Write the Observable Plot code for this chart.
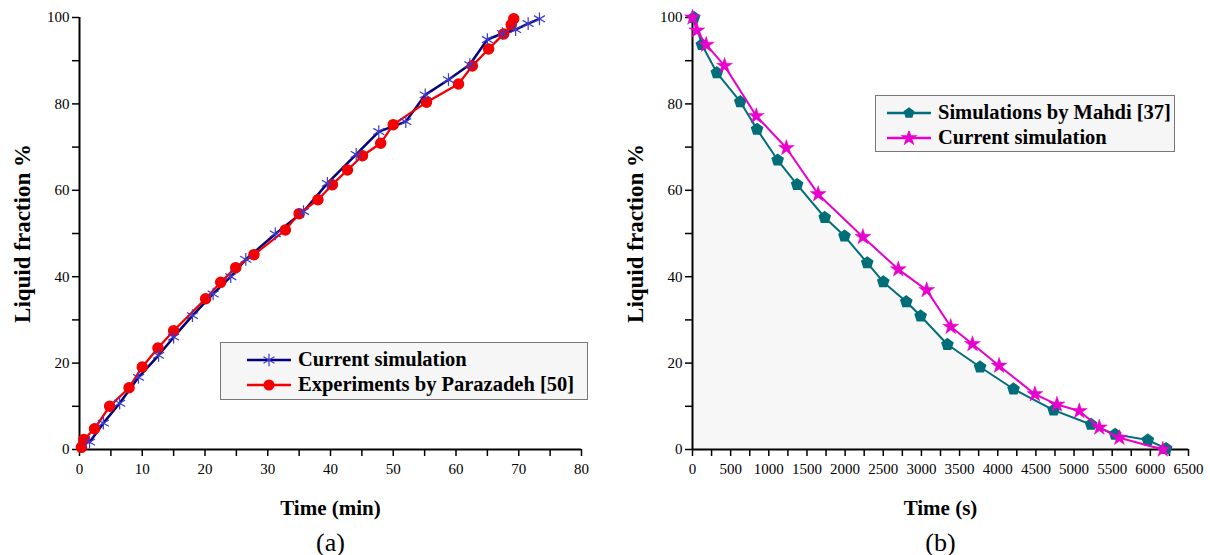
<!DOCTYPE html>
<html><head><meta charset="utf-8">
<script src="https://cdn.jsdelivr.net/npm/d3@7"></script>
<script src="https://cdn.jsdelivr.net/npm/@observablehq/plot@0.6"></script>
<style>
body{margin:0;background:#fff;}
#wrap{position:relative;width:1210px;height:555px;display:flex;font-family:'Liberation Serif','Times New Roman','DejaVu Serif',serif;}
#wrap svg text{font-family:'Liberation Serif','Times New Roman','DejaVu Serif',serif;}
.legend{position:absolute;background:#f6f6f6;border:1.5px solid #777;box-sizing:border-box;font-weight:bold;font-size:20.5px;color:#000;}
.legend .row{display:flex;align-items:center;height:25px;white-space:nowrap;}
.legend svg{margin-right:7px;flex:none;}
</style></head><body><div id="wrap"></div>
<script>
// ---------- Panel (a) data ----------
const timeA_sim = [1.6, 3.8, 6.4, 9.4, 12.6, 15.0, 18.0, 21.3, 24.1, 26.5, 31.2, 35.7, 39.5, 44.1, 47.7, 52.0, 55.1, 58.8, 62.2, 65.0, 67.4, 69.5, 71.5, 73.3];
const fracA_sim = [1.7, 6.1, 10.7, 16.7, 21.8, 26.0, 31.0, 36.0, 40.0, 44.0, 49.9, 55.1, 61.6, 68.3, 73.6, 75.9, 82.1, 85.6, 89.1, 94.9, 96.3, 97.2, 98.6, 99.7];
const timeA_exp = [0.3, 0.7, 2.4, 4.8, 7.9, 10.0, 12.5, 15.0, 20.1, 22.5, 24.9, 27.8, 32.8, 35.0, 38.0, 40.3, 42.7, 45.1, 48.0, 50.0, 55.3, 60.4, 62.6, 65.2, 67.6, 68.8, 69.2];
const fracA_exp = [0.5, 2.3, 4.8, 10.0, 14.3, 19.1, 23.5, 27.5, 34.9, 38.7, 42.1, 45.1, 50.8, 54.6, 57.8, 61.3, 64.7, 68.0, 70.9, 75.2, 80.4, 84.6, 88.8, 92.7, 96.2, 98.3, 99.7];
const xTicksA = [0, 10, 20, 30, 40, 50, 60, 70, 80];
const xMinorA = [5, 15, 25, 35, 45, 55, 65, 75];
const yTicks = [0, 20, 40, 60, 80, 100];
const yMinor = [10, 30, 50, 70, 90];

// ---------- Panel (b) data ----------
const timeB_mahdi = [20, 123, 320, 626, 846, 1116, 1371, 1733, 1992, 2290, 2500, 2802, 2990, 3341, 3769, 4207, 4733, 5223, 5538, 5967, 6207];
const fracB_mahdi = [100, 93.7, 87.2, 80.5, 74.1, 67.0, 61.3, 53.7, 49.4, 43.2, 38.8, 34.2, 30.9, 24.3, 19.1, 14.0, 9.1, 5.8, 3.5, 2.2, 0.2];
const timeB_sim = [0, 57, 180, 420, 836, 1230, 1647, 2233, 2697, 3069, 3384, 3669, 4018, 4487, 4776, 5069, 5331, 5594, 6164];
const fracB_sim = [100, 97, 93.7, 88.8, 77.2, 69.8, 59.1, 49.2, 41.7, 36.9, 28.4, 24.4, 19.4, 12.8, 10.4, 8.9, 5.1, 2.7, 0];
const xTicksB = [0, 500, 1000, 1500, 2000, 2500, 3000, 3500, 4000, 4500, 5000, 5500, 6000, 6500];
const xMinorB = [250, 750, 1250, 1750, 2250, 2750, 3250, 3750, 4250, 4750, 5250, 5750, 6250];

const legendA = ["Current simulation", "Experiments by Parazadeh [50]"];
const legendB = ["Simulations by Mahdi [37]", "Current simulation"];

// colours
const cBlueLine = "#00007a", cBlueMark = "#3a3acc", cRed = "#f40000", cTeal = "#006e78", cMag = "#e800cc";

const zip = (xs, ys) => xs.map((x, i) => ({x, y: ys[i]}));
const A_sim = zip(timeA_sim, fracA_sim), A_exp = zip(timeA_exp, fracA_exp);
const B_mahdi = zip(timeB_mahdi, fracB_mahdi), B_sim = zip(timeB_sim, fracB_sim);

const pentagon = {
  draw(ctx, size) {
    const r = Math.sqrt(size / Math.PI) * 1.15;
    for (let i = 0; i < 5; i++) {
      const a = -Math.PI / 2 + i * 2 * Math.PI / 5;
      const px = r * Math.cos(a), py = r * Math.sin(a);
      if (i === 0) ctx.moveTo(px, py); else ctx.lineTo(px, py);
    }
    ctx.closePath();
  }
};

const font = "'Liberation Serif', 'Times New Roman', 'DejaVu Serif', serif";
const fmt = d => String(d);
const commonAxes = (xTicks, xMinor) => [
  Plot.axisY(yMinor, {tickSize: 7, text: null, strokeWidth: 1.5, label: null}),
  Plot.axisY(yTicks, {tickSize: 7, tickPadding: 3, strokeWidth: 1.5, label: null, tickFormat: fmt}),
  Plot.axisX(xMinor, {tickSize: 7, text: null, strokeWidth: 1.5, label: null}),
  Plot.axisX(xTicks, {tickSize: 7, tickPadding: 7, strokeWidth: 1.5, label: null, tickFormat: fmt}),
  Plot.ruleX([0], {stroke: "#000", strokeWidth: 2}),
  Plot.ruleY([0], {stroke: "#000", strokeWidth: 2}),
  Plot.text(["Liquid fraction %"], {frameAnchor: "left", textAnchor: "middle", lineAnchor: "middle", rotate: -90, dx: -57, fontWeight: "bold", fontSize: 23, letterSpacing: "0.8px"}),
];

const plotA = Plot.plot({
  width: 610, height: 555,
  marginLeft: 79, marginRight: 29, marginTop: 17, marginBottom: 106,
  x: {domain: [0, 80]}, y: {domain: [0, 100]},
  style: {fontFamily: font, fontSize: "15px", color: "#000", background: "transparent", overflow: "visible"},
  marks: [
    ...commonAxes(xTicksA, xMinorA),
    Plot.line(A_sim, {x: "x", y: "y", stroke: cBlueLine, strokeWidth: 2.5}),
    Plot.line(A_exp, {x: "x", y: "y", stroke: cRed, strokeWidth: 2.3}),
    Plot.dot(A_exp, {x: "x", y: "y", r: 5, fill: cRed, stroke: cRed}),
    Plot.dot(A_sim, {x: "x", y: "y", r: 6, symbol: "asterisk", stroke: cBlueMark, strokeWidth: 1.2}),
    Plot.text(["Time (min)"], {frameAnchor: "bottom", dy: 65, fontWeight: "bold", fontSize: 21}),
    Plot.text(["(a)"], {frameAnchor: "bottom", dy: 101, fontSize: 26}),
  ]
});

const plotB = Plot.plot({
  width: 600, height: 555,
  marginLeft: 82, marginRight: 22, marginTop: 17, marginBottom: 106,
  x: {domain: [0, 6500]}, y: {domain: [0, 100]},
  style: {fontFamily: font, fontSize: "15px", color: "#000", background: "transparent", overflow: "visible"},
  marks: [
    Plot.areaY(B_mahdi, {x: "x", y: "y", fill: "#f7f7f7"}),
    ...commonAxes(xTicksB, xMinorB),
    Plot.line(B_mahdi, {x: "x", y: "y", stroke: cTeal, strokeWidth: 2}),
    Plot.dot(B_mahdi, {x: "x", y: "y", r: 5, symbol: pentagon, fill: cTeal, stroke: cTeal}),
    Plot.line(B_sim, {x: "x", y: "y", stroke: cMag, strokeWidth: 2}),
    Plot.dot(B_sim, {x: "x", y: "y", r: 5, symbol: "star", fill: cMag, stroke: cMag, strokeWidth: 0.5}),
    Plot.text(["Time (s)"], {frameAnchor: "bottom", dy: 65, fontWeight: "bold", fontSize: 21}),
    Plot.text(["(b)"], {frameAnchor: "bottom", dy: 101, fontSize: 26}),
  ]
});

const wrap = document.getElementById("wrap");
wrap.appendChild(plotA);
wrap.appendChild(plotB);

// legends
function swatch(color, lineColor, kind) {
  let marker = "";
  if (kind === "asterisk") {
    marker = `<path d="${d3.symbol(d3.symbolAsterisk, Math.PI * 36)()}" transform="translate(22,7)" stroke="${color}" stroke-width="1.2" fill="none"/>`;
  } else if (kind === "circle") {
    marker = `<circle cx="22" cy="7" r="5.5" fill="${color}"/>`;
  } else if (kind === "pentagon") {
    const p = d3.path(); pentagon.draw(p, Math.PI * 25);
    marker = `<path d="${p.toString()}" transform="translate(22,7)" fill="${color}"/>`;
  } else {
    marker = `<path d="${d3.symbol(d3.symbolStar, Math.PI * 30)()}" transform="translate(22,7)" fill="${color}"/>`;
  }
  return `<svg width="44" height="14"><line x1="0" x2="44" y1="7" y2="7" stroke="${lineColor}" stroke-width="2.5"/>${marker}</svg>`;
}
function legend(left, top, w, h, padL, items) {
  const d = document.createElement("div");
  d.className = "legend";
  Object.assign(d.style, {left: left + "px", top: top + "px", width: w + "px", height: h + "px", paddingLeft: padL + "px", paddingTop: "4px"});
  d.innerHTML = items.map(([label, c, lc, k]) => `<div class="row">${swatch(c, lc, k)}<span>${label}</span></div>`).join("");
  wrap.appendChild(d);
}
legend(220, 342, 368, 58, 26, [[legendA[0], cBlueMark, cBlueLine, "asterisk"], [legendA[1], cRed, cRed, "circle"]]);
legend(875, 95, 300, 57, 11, [[legendB[0], cTeal, cTeal, "pentagon"], [legendB[1], cMag, cMag, "star"]]);
</script>
</body></html>
